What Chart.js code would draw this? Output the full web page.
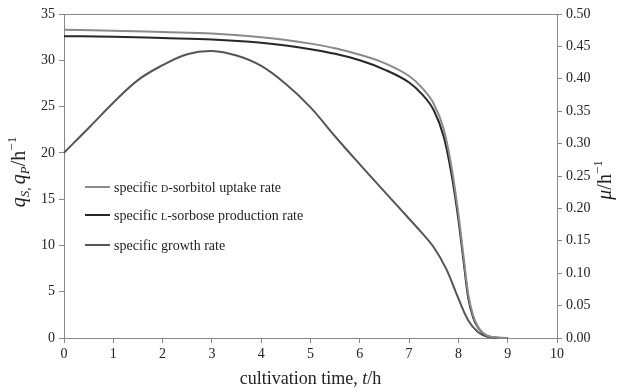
<!DOCTYPE html>
<html>
<head>
<meta charset="utf-8">
<script src="https://cdn.jsdelivr.net/npm/chart.js@4"></script>
<style>
  html, body { margin: 0; padding: 0; background: #fff; }
  #wrap { width: 619px; height: 392px; }
</style>
</head>
<body>
<div id="wrap"><canvas id="chart" width="619" height="392"></canvas></div>
<script>
// tiempos y valores
const timeQ = [0, 1, 2, 3, 4, 4.5, 5, 5.5, 6, 6.5, 7, 7.25, 7.5, 7.7, 7.85, 8.0, 8.1, 8.2, 8.3, 8.4, 8.5, 8.6, 8.8, 9.0];
const uptakeRate = [33.3, 33.2, 33.05, 32.9, 32.5, 32.2, 31.8, 31.3, 30.6, 29.7, 28.3, 27.1, 25.3, 22.6, 18.8, 13.4, 9.0, 4.7, 2.4, 1.2, 0.55, 0.2, 0.03, 0];
const productionRate = [32.6, 32.55, 32.4, 32.25, 31.9, 31.6, 31.2, 30.7, 30.0, 29.0, 27.6, 26.4, 24.6, 21.8, 18.0, 12.8, 8.5, 4.3, 2.2, 1.1, 0.5, 0.2, 0.02, 0];

const timeMu = [0, 0.5, 1, 1.5, 2, 2.5, 3, 3.5, 4, 4.5, 5, 5.5, 6, 6.5, 7, 7.25, 7.5, 7.75, 8, 8.2, 8.4, 8.6, 8.8];
const growthRate = [0.286, 0.324, 0.363, 0.398, 0.421, 0.438, 0.443, 0.436, 0.420, 0.392, 0.356, 0.311, 0.268, 0.226, 0.184, 0.163, 0.140, 0.107, 0.061, 0.027, 0.009, 0.0015, 0];

const xTicks = [0, 1, 2, 3, 4, 5, 6, 7, 8, 9, 10];

const SERIF = "'Liberation Serif', 'DejaVu Serif', serif";
const TEXT = '#222';
const AXIS = '#888';

function toPoints(xs, ys) {
    return xs.map((x, i) => ({ x: x, y: ys[i] }));
}

// texto con cursiva, subindices y superindices
function drawRich(ctx, parts, x, y, align) {
    let total = 0;
    parts.forEach(p => {
        ctx.font = `${p.it ? 'italic ' : ''}${p.s}px ${SERIF}`;
        p.w = ctx.measureText(p.t).width;
        total += p.w;
    });
    let cx = align === 'center' ? x - total / 2 : x;
    ctx.textBaseline = 'alphabetic';
    ctx.textAlign = 'left';
    parts.forEach(p => {
        ctx.font = `${p.it ? 'italic ' : ''}${p.s}px ${SERIF}`;
        ctx.fillText(p.t, cx, y + (p.dy || 0));
        cx += p.w;
    });
}

const legendItems = [
    { color: '#8a8a8a', parts: [{ t: 'specific ', s: 14 }, { t: 'D', s: 10 }, { t: '-sorbitol uptake rate', s: 14 }] },
    { color: '#262626', parts: [{ t: 'specific ', s: 14 }, { t: 'L', s: 10 }, { t: '-sorbose production rate', s: 14 }] },
    { color: '#555555', parts: [{ t: 'specific growth rate', s: 14 }] }
];

const decorPlugin = {
    id: 'decor',
    afterDraw(chart) {
        const ctx = chart.ctx;
        const a = chart.chartArea;
        ctx.save();
        // linea superior del marco
        ctx.strokeStyle = AXIS;
        ctx.lineWidth = 1;
        ctx.beginPath();
        ctx.moveTo(a.left, a.top + 0.5);
        ctx.lineTo(a.right, a.top + 0.5);
        ctx.stroke();

        ctx.fillStyle = TEXT;
        // titulo eje x
        drawRich(ctx, [
            { t: 'cultivation time, ', s: 18 },
            { t: 't', s: 18, it: true },
            { t: '/h', s: 18 }
        ], (a.left + a.right) / 2, 384, 'center');

        // titulo eje izquierdo
        ctx.save();
        ctx.translate(25, 172);
        ctx.rotate(-Math.PI / 2);
        drawRich(ctx, [
            { t: 'q', s: 20, it: true },
            { t: 'S', s: 13, it: true, dy: 4 },
            { t: ', ', s: 13, dy: 4 },
            { t: 'q', s: 20, it: true },
            { t: 'P', s: 13, it: true, dy: 4 },
            { t: '/h', s: 20 },
            { t: '\u22121', s: 13, dy: -9 }
        ], 0, 0, 'center');
        ctx.restore();

        // titulo eje derecho
        ctx.save();
        ctx.translate(611, 180);
        ctx.rotate(-Math.PI / 2);
        drawRich(ctx, [
            { t: '\u03bc', s: 20, it: true },
            { t: '/h', s: 20 },
            { t: '\u22121', s: 13, dy: -9 }
        ], 0, 0, 'center');
        ctx.restore();

        // leyenda
        const rows = [187, 215, 245];
        legendItems.forEach((item, i) => {
            ctx.strokeStyle = item.color;
            ctx.lineWidth = 2;
            ctx.beginPath();
            ctx.moveTo(85, rows[i]);
            ctx.lineTo(110, rows[i]);
            ctx.stroke();
            ctx.fillStyle = TEXT;
            drawRich(ctx, item.parts, 114, rows[i] + 5, 'left');
        });
        ctx.restore();
    }
};

function axisGrid() {
    return { display: true, drawOnChartArea: false, drawTicks: true, tickLength: 5, color: AXIS };
}

const tickFont = { family: SERIF, size: 14 };

new Chart(document.getElementById('chart'), {
    type: 'line',
    data: {
        datasets: [
            {
                label: 'specific D-sorbitol uptake rate',
                data: toPoints(timeQ, uptakeRate),
                borderColor: '#8a8a8a',
                borderWidth: 2,
                cubicInterpolationMode: 'monotone',
                yAxisID: 'yq'
            },
            {
                label: 'specific L-sorbose production rate',
                data: toPoints(timeQ, productionRate),
                borderColor: '#262626',
                borderWidth: 2,
                cubicInterpolationMode: 'monotone',
                yAxisID: 'yq'
            },
            {
                label: 'specific growth rate',
                data: toPoints(timeMu, growthRate),
                borderColor: '#555555',
                borderWidth: 2,
                tension: 0.4,
                yAxisID: 'ymu'
            }
        ]
    },
    options: {
        responsive: false,
        animation: false,
        layout: { padding: { top: 14, left: 0, right: 0, bottom: 0 } },
        elements: {
            point: { radius: 0 },
            line: { fill: false }
        },
        datasets: { line: { clip: false } },
        plugins: { legend: { display: false }, tooltip: { enabled: false } },
        scales: {
            x: {
                type: 'linear',
                min: 0,
                max: 10,
                afterBuildTicks: s => { s.ticks = xTicks.map(v => ({ value: v })); },
                afterFit: s => { s.height = 54; },
                ticks: { font: tickFont, color: TEXT, padding: 3, maxRotation: 0 },
                grid: axisGrid(),
                border: { color: AXIS, width: 1 }
            },
            yq: {
                position: 'left',
                min: 0,
                max: 35,
                afterFit: s => { s.width = 64; },
                ticks: { stepSize: 5, font: tickFont, color: TEXT, padding: 4 },
                grid: axisGrid(),
                border: { color: AXIS, width: 1 }
            },
            ymu: {
                position: 'right',
                min: 0,
                max: 0.5,
                afterFit: s => { s.width = 62; },
                ticks: { stepSize: 0.05, font: tickFont, color: TEXT, padding: 4, callback: v => v.toFixed(2) },
                grid: axisGrid(),
                border: { color: AXIS, width: 1 }
            }
        }
    },
    plugins: [decorPlugin]
});
</script>
</body>
</html>
